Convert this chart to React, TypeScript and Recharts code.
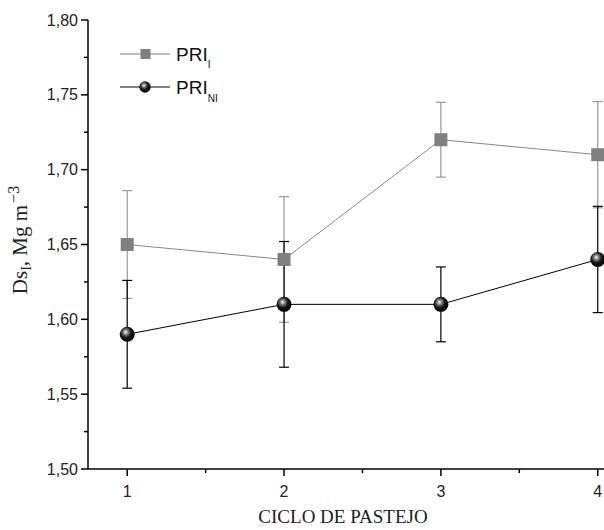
import React from 'react';
import { ComposedChart, Line, XAxis, YAxis, ErrorBar, Legend, Label } from 'recharts';

const cycles = [1, 2, 3, 4];
const priI = [1.65, 1.64, 1.72, 1.71];
const priIErr = [0.036, 0.042, 0.025, 0.0355];
const priNI = [1.59, 1.61, 1.61, 1.64];
const priNIErr = [0.036, 0.042, 0.025, 0.0355];
const xTicks = [1, 1.5, 2, 2.5, 3, 3.5, 4];
const yTicks = [1.5, 1.525, 1.55, 1.575, 1.6, 1.625, 1.65, 1.675, 1.7, 1.725, 1.75, 1.775, 1.8];

const data = cycles.map((c, i) => ({
  ciclo: c,
  priI: priI[i],
  priIErr: priIErr[i],
  priNI: priNI[i],
  priNIErr: priNIErr[i],
}));

const SANS = '"Liberation Sans", Arial, sans-serif';
const SERIF = '"Liberation Serif", "Times New Roman", serif';

const isMajorY = (v: number) => Math.abs(v * 20 - Math.round(v * 20)) < 1e-6;
const isMajorX = (v: number) => Math.abs(v - Math.round(v)) < 1e-6;

const YTick = (props: any) => {
  const { x, y, payload } = props;
  const v = payload.value as number;
  const major = isMajorY(v);
  return (
    <g>
      <line x1={x} x2={x - (major ? 7 : 4)} y1={y} y2={y} stroke="#000" strokeWidth={1.5} />
      {major && (
        <text x={x - 10} y={y} dy="0.35em" textAnchor="end" fontFamily={SANS} fontSize={16} fill="#222">
          {v.toFixed(2).replace('.', ',')}
        </text>
      )}
    </g>
  );
};

const XTick = (props: any) => {
  const { x, y, payload } = props;
  const v = payload.value as number;
  const major = isMajorX(v);
  return (
    <g>
      <line x1={x} x2={x} y1={y} y2={y + (major ? 7 : 4)} stroke="#000" strokeWidth={1.5} />
      {major && (
        <text x={x} y={y + 28} textAnchor="middle" fontFamily={SANS} fontSize={16} fill="#222">
          {String(v)}
        </text>
      )}
    </g>
  );
};

const SquareDot = (props: any) => {
  const { cx, cy, index } = props;
  if (cx == null || cy == null) return <g key={`sq-${index}`} />;
  return <rect key={`sq-${index}`} x={cx - 6.5} y={cy - 6.5} width={13} height={13} fill="#808080" />;
};

const SphereDot = (props: any) => {
  const { cx, cy, index } = props;
  if (cx == null || cy == null) return <g key={`sp-${index}`} />;
  return (
    <g key={`sp-${index}`}>
      <defs>
        <radialGradient id={`sphereGrad${index}`} cx="0.42" cy="0.38" r="0.62" fx="0.4" fy="0.35">
          <stop offset="0" stopColor="#ffffff" />
          <stop offset="0.2" stopColor="#9a9a9a" />
          <stop offset="0.55" stopColor="#1a1a1a" />
          <stop offset="1" stopColor="#000000" />
        </radialGradient>
      </defs>
      <circle cx={cx} cy={cy} r={7.5} fill={`url(#sphereGrad${index})`} />
    </g>
  );
};

const LegendContent = () => (
  <svg width={140} height={72} style={{ display: 'block' }}>
    <defs>
      <radialGradient id="legendSphere" cx="0.42" cy="0.38" r="0.62" fx="0.4" fy="0.35">
        <stop offset="0" stopColor="#ffffff" />
        <stop offset="0.2" stopColor="#9a9a9a" />
        <stop offset="0.55" stopColor="#1a1a1a" />
        <stop offset="1" stopColor="#000000" />
      </radialGradient>
    </defs>
    <line x1={2} x2={52} y1={16} y2={16} stroke="#808080" strokeWidth={1} />
    <rect x={22.5} y={11} width={10} height={10} fill="#808080" />
    <text x={58} y={23} fontFamily={SANS} fontSize={19} fill="#111">
      PRI<tspan fontSize={10} dy={7}>I</tspan>
    </text>
    <line x1={2} x2={52} y1={49} y2={49} stroke="#000" strokeWidth={1} />
    <circle cx={27} cy={49} r={5.7} fill="url(#legendSphere)" />
    <text x={58} y={56} fontFamily={SANS} fontSize={19} fill="#111">
      PRI<tspan fontSize={10} dy={7.5}>NI</tspan>
    </text>
  </svg>
);

const YLabel = () => {
  const x = 27;
  const y = 240;
  return (
    <text
      x={x}
      y={y}
      transform={`rotate(-90, ${x}, ${y})`}
      textAnchor="middle"
      fontFamily={SERIF}
      fontSize={21}
      fill="#222"
    >
      Ds<tspan fontSize={14} dy={4}>I</tspan>
      <tspan dy={-4}>, Mg m</tspan>
      <tspan fontSize={16} dy={-8} dx={2}>−3</tspan>
    </text>
  );
};

const XLabel = () => (
  <text x={343} y={523} textAnchor="middle" fontFamily={SERIF} fontSize={19} fill="#222">
    CICLO DE PASTEJO
  </text>
);

export default function App() {
  return (
    <div style={{ position: 'fixed', left: 0, top: 0, width: 604, height: 530, background: '#fff' }}>
      <ComposedChart
        width={604}
        height={530}
        data={data}
        margin={{ top: 20, right: 0, left: 0, bottom: 0 }}
      >
        <XAxis
          dataKey="ciclo"
          type="number"
          domain={[0.75, 4.04]}
          ticks={xTicks}
          interval={0}
          tickSize={0}
          tickMargin={0}
          tickLine={false}
          tick={<XTick />}
          height={61}
          axisLine={{ stroke: '#000', strokeWidth: 1.5 }}
        >
          <Label content={<XLabel />} />
        </XAxis>
        <YAxis
          type="number"
          domain={[1.5, 1.8]}
          ticks={yTicks}
          interval={0}
          tickSize={0}
          tickMargin={0}
          tickLine={false}
          tick={<YTick />}
          width={88}
          axisLine={{ stroke: '#000', strokeWidth: 1.5 }}
        >
          <Label content={<YLabel />} />
        </YAxis>
        <Legend
          layout="vertical"
          align="center"
          verticalAlign="middle"
          content={<LegendContent />}
          wrapperStyle={{ left: 118, top: 38, width: 140, height: 72 }}
        />
        <Line
          dataKey="priI"
          name="PRI_I"
          stroke="#888"
          strokeWidth={1}
          dot={(p: any) => <SquareDot {...p} />}
          activeDot={false}
          isAnimationActive={false}
        >
          <ErrorBar dataKey="priIErr" direction="y" width={5} stroke="#999" strokeWidth={1.2} isAnimationActive={false} />
        </Line>
        <Line
          dataKey="priNI"
          name="PRI_NI"
          stroke="#000"
          strokeWidth={1}
          dot={(p: any) => <SphereDot {...p} />}
          activeDot={false}
          isAnimationActive={false}
        >
          <ErrorBar dataKey="priNIErr" direction="y" width={5} stroke="#000" strokeWidth={1.2} isAnimationActive={false} />
        </Line>
      </ComposedChart>
    </div>
  );
}
